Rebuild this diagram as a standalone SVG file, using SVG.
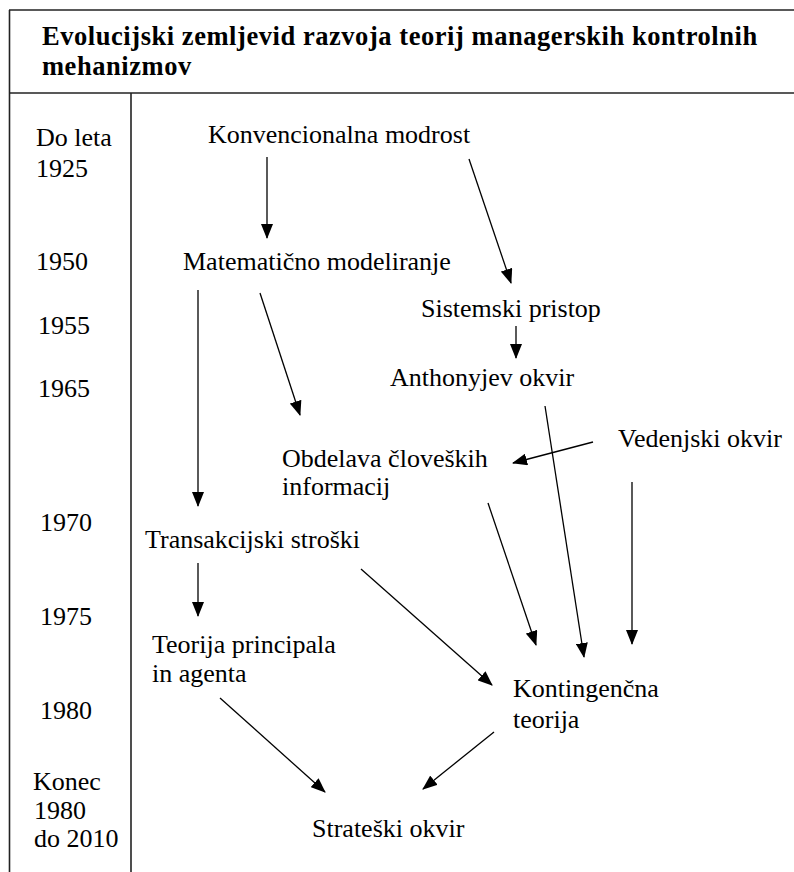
<svg xmlns="http://www.w3.org/2000/svg" width="794" height="872" viewBox="0 0 794 872">
<style>
text{font-family:"Liberation Serif","Times New Roman",serif;font-size:26px;fill:#000}
.title{font-weight:bold;font-size:26.5px;letter-spacing:0.55px}
.frame{stroke:#222;stroke-width:1.6;fill:none}
.conn line{stroke:#000;stroke-width:1.3;marker-end:url(#ah)}
</style>
<defs>
<marker id="ah" viewBox="0 0 15 12" refX="14" refY="6" markerWidth="15" markerHeight="12" markerUnits="userSpaceOnUse" orient="auto">
<path d="M0,0 L15,6 L0,12 Z" fill="#000"/>
</marker>
</defs>
<rect width="794" height="872" fill="#fff"/>
<g id="frame">
<line class="frame" x1="9" y1="10" x2="794" y2="10"/>
<line class="frame" x1="9.5" y1="10" x2="9.5" y2="872"/>
<line class="frame" x1="9" y1="93" x2="794" y2="93"/>
<line class="frame" x1="131" y1="93" x2="131" y2="872"/>
</g>
<g id="title">
<text class="title" x="42" y="45">Evolucijski zemljevid razvoja teorij managerskih kontrolnih</text>
<text class="title" x="42" y="75">mehanizmov</text>
</g>
<g id="timeline">
<text x="36" y="146">Do leta</text>
<text x="36" y="177">1925</text>
<text x="36" y="270">1950</text>
<text x="38" y="334">1955</text>
<text x="38" y="397">1965</text>
<text x="40" y="531">1970</text>
<text x="40" y="625">1975</text>
<text x="40" y="719">1980</text>
<text x="33" y="790">Konec</text>
<text x="34" y="819">1980</text>
<text x="34" y="847">do 2010</text>
</g>
<g id="n-konvencionalna"><text x="208" y="143">Konvencionalna modrost</text></g>
<g id="n-matematicno"><text x="183" y="270">Matematično modeliranje</text></g>
<g id="n-sistemski"><text x="421" y="317">Sistemski pristop</text></g>
<g id="n-anthonyjev"><text x="390" y="386">Anthonyjev okvir</text></g>
<g id="n-obdelava"><text x="282" y="467">Obdelava človeških</text><text x="282" y="495">informacij</text></g>
<g id="n-vedenjski"><text x="618" y="447">Vedenjski okvir</text></g>
<g id="n-transakcijski"><text x="145" y="548">Transakcijski stroški</text></g>
<g id="n-teorija"><text x="152" y="653">Teorija principala</text><text x="152" y="682">in agenta</text></g>
<g id="n-kontingencna"><text x="513" y="697">Kontingenčna</text><text x="513" y="728">teorija</text></g>
<g id="n-strateski"><text x="312" y="837">Strateški okvir</text></g>
<g id="connectors" class="conn">
<line x1="267" y1="157" x2="267" y2="238"/>
<line x1="469" y1="159" x2="511" y2="283"/>
<line x1="198" y1="290" x2="198" y2="506"/>
<line x1="260" y1="293" x2="300" y2="415"/>
<line x1="516" y1="326" x2="516" y2="358"/>
<line x1="545" y1="406" x2="584" y2="657"/>
<line x1="593" y1="442" x2="513" y2="463"/>
<line x1="488" y1="503" x2="536" y2="645"/>
<line x1="632" y1="482" x2="632" y2="644"/>
<line x1="198" y1="563" x2="198" y2="616"/>
<line x1="361" y1="569" x2="492" y2="685"/>
<line x1="220" y1="698" x2="325" y2="792"/>
<line x1="494" y1="732" x2="423" y2="789"/>
</g>
</svg>
